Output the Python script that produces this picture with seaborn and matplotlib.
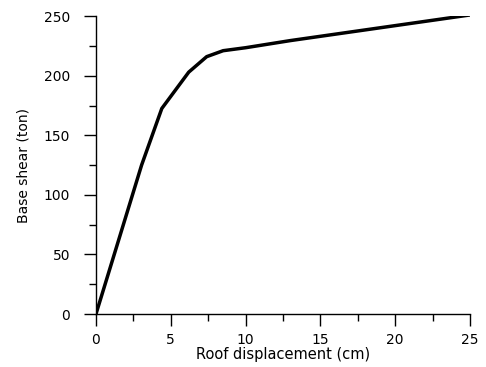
import matplotlib
matplotlib.use("Agg")
import matplotlib.pyplot as plt
import seaborn as sns
import pandas as pd
from matplotlib.ticker import MultipleLocator

disp_cm = [0, 3.05, 4.4, 6.2, 7.4, 8.5, 10, 13, 25]
shear_ton = [0, 125, 172.5, 203, 216, 221, 223.5, 229.5, 251]

sns.set_style("ticks")
plt.rcParams['font.family'] = ['DejaVu Sans']

fig = plt.figure(figsize=(4.86, 3.67), dpi=100)
ax = fig.add_axes([0.1975, 0.1444, 0.7695, 0.8116])
df = pd.DataFrame({"d": disp_cm, "v": shear_ton})
sns.lineplot(data=df, x="d", y="v", ax=ax, color="black", linewidth=2.5, sort=False)

ax.set_xlim(0, 25)
ax.set_ylim(0, 250)
ax.xaxis.set_major_locator(MultipleLocator(5))
ax.xaxis.set_minor_locator(MultipleLocator(2.5))
ax.yaxis.set_major_locator(MultipleLocator(50))
ax.yaxis.set_minor_locator(MultipleLocator(25))
ax.tick_params(which="major", length=8.5, width=1, color="black", labelsize=10, labelcolor="black")
ax.tick_params(which="minor", length=5, width=1, color="black")
ax.tick_params(axis="y", pad=10)
ax.tick_params(axis="x", pad=5)
for s in ["left", "bottom"]:
    ax.spines[s].set_color("black")
    ax.spines[s].set_linewidth(1)
sns.despine(ax=ax)
ax.set_xlabel("Roof displacement (cm)", fontsize=10.5, labelpad=0, color="black")
ax.set_ylabel("Base shear (ton)", fontsize=10, labelpad=10, color="black")
fig.savefig("out.png", dpi=100)
